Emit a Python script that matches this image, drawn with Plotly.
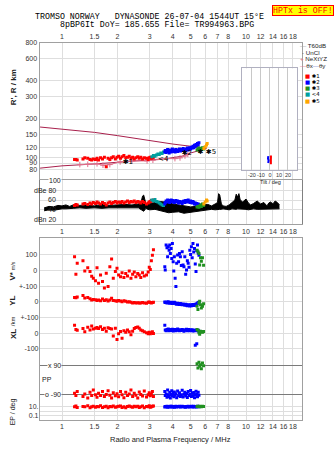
import math
import plotly.graph_objects as go

W, H = 335, 451

# ---------------- data ----------------
freq_ticks = [1, 1.5, 2, 3, 4, 5, 6, 7, 8, 10, 12, 14, 16, 18]
freq_ticktext = ["1", "1.5", "2", "3", "4", "5", "6", "7", "8", "10", "12", "14", "16", "18"]
height_ticks = [80, 90, 100, 120, 150, 200, 300, 400, 600, 800]

# echo group *1 (red)
f1 = [1.17, 1.19, 1.21, 1.30, 1.33, 1.38, 1.42, 1.45, 1.48, 1.52, 1.55, 1.58, 1.62, 1.66, 1.70,
      1.74, 1.78, 1.82, 1.86, 1.90, 1.95, 1.99, 2.03, 2.08, 2.12, 2.17, 2.22, 2.27, 2.32, 2.37,
      2.42, 2.47, 2.52, 2.58, 2.63, 2.68, 2.74, 2.80, 2.88, 2.94, 2.98, 3.02, 3.06, 3.10, 3.14]
R1 = [96, 96, 95, 97, 99, 98, 96, 95, 97, 96, 98, 95, 99, 97, 100, 84, 98, 96, 99, 101,
      97, 100, 102, 98, 101, 103, 99, 100, 102, 98, 100, 97, 99, 101, 98, 100, 97, 99, 98, 96,
      99, 100, 98, 99, 100]
A1 = [49, 51, 50, 52, 53, 51, 54, 52, 55, 53, 56, 54, 52, 55, 53, 50, 54, 56, 53, 55,
      57, 54, 56, 55, 57, 54, 56, 58, 55, 57, 56, 58, 55, 57, 56, 54, 57, 55, 52, 54,
      56, 57, 59, 58, 60]
V1 = [86, -25, 44, 61, -4, 17, -8, -37, -50, -66, 17, -81, -29, -70, -112, -19, -102, 23, 71, -50,
      -8, 13, -29, -40, -15, -45, -20, -35, -5, -50, -25, -10, -40, -20, -30, -45, -15, -35, -30, -10,
      20, 5, 60, 95, 130]
YL1 = [25, 22, 28, 37, 21, 25, 17, 8, 12, 10, 5, 8, 4, 15, 6, 10, 2, 8, 19, 5,
       3, 0, 6, 2, -2, 4, 0, -4, -2, -6, -10, -8, -10, -9, -11, -10, -8, -10, -12, -6,
       -4, -8, -10, -7, -5]
XL1 = [50, 23, 17, 29, 8, 37, 20, 44, 25, 30, 35, 28, 40, 22, 30, 12, 33, 28, 25, -19,
       30, -40, -4, 10, -33, 15, 5, 20, 8, -10, 12, 29, 35, 38, 30, 20, 15, 8, 2, -5,
       5, -4, 0, 8, -2]
PP1 = [-80, -95, -70, -100, -85, -110, -75, -95, -60, -90, -105, -80, -95, -70, -100, -88, -65, -92, -110, -78,
       -96, -84, -102, -70, -90, -108, -75, -95, -85, -60, -100, -80, -92, -110, -72, -88, -98, -66, -104, -90,
       -78, -96, -86, -70, -100]
EP1 = [10, 14, 7, 11, 10, 16, 6, 10, 13, 8, 11, 10, 17, 7, 10, 13, 6, 11, 10, 15,
       8, 10, 12, 14, 7, 10, 6, 11, 15, 10, 8, 13, 10, 12, 7, 10, 14, 6, 11, 10,
       16, 8, 10, 12, 14]

# echo group *2 (blue)
f2 = [3.62, 3.64, 3.68, 3.72, 3.75, 3.78, 3.82, 3.85, 3.88, 3.92, 3.95, 3.98, 4.02, 4.05, 4.08,
      4.12, 4.16, 4.20, 4.25, 4.30, 4.35, 4.40, 4.45, 4.50, 4.55, 4.60, 4.65, 4.70, 4.75, 4.80,
      4.85, 4.90, 4.95, 5.00, 5.05, 5.10, 5.15, 5.20, 5.25, 5.30, 5.35, 5.40, 5.45, 5.50, 5.55]
R2 = [110, 113, 109, 112, 115, 111, 108, 114, 112, 110, 113, 116, 111, 114, 112, 110, 115, 113, 111, 114,
      116, 112, 115, 113, 117, 114, 112, 116, 115, 118, 114, 117, 119, 116, 120, 118, 122, 119, 124, 121,
      126, 123, 128, 125, 130]
A2 = [52, 55, 58, 56, 60, 57, 59, 55, 58, 60, 57, 59, 56, 58, 55, 57, 59, 56, 58, 54,
      57, 55, 56, 53, 57, 58, 55, 59, 56, 58, 60, 57, 55, 58, 56, 54, 57, 55, 52, 54,
      51, 53, 50, 52, 51]
V2 = [23, 2, 159, 142, 86, 148, 127, 159, 106, 138, 75, 169, 54, -4, 86, -50, -102, 44, 96, 54,
      106, 86, 30, 117, 34, 23, 86, -25, 2, 60, 45, 20, 127, 100, 148, 80, 169, 115, 138, 40,
      -8, 125, 160, 110, 95]
YL2 = [-4, -8, -5, -10, -6, -3, -9, -12, -7, -5, -10, -14, -8, -12, -6, -10, -15, -18, -12, -16,
       -20, -14, -18, -22, -16, -20, -25, -19, -23, -28, -21, -25, -30, -22, -27, -24, -20, -26, -22, -18,
       -24, -15, -12, -8, -5]
XL2 = [50, 20, 15, 22, 18, 25, 14, 20, 23, 16, 19, 24, 13, 21, 17, 22, 15, 20, 25, 18,
       14, 21, 16, 23, 19, 12, 20, 17, 24, 15, 18, 22, 14, 19, 16, 21, 13, 18, 15, -77,
       20, -67, 14, 17, 12]
PP2 = [-70, -95, -85, -105, -60, -90, -100, -75, -110, -88, -65, -95, -80, -102, -72, -92, -84, -108, -66, -96,
       -78, -100, -90, -62, -104, -86, -74, -98, -82, -106, -70, -94, -88, -64, -100, -80, -96, -76, -108, -90,
       -68, -86, -102, -74, -92]
EP2 = [9, 11, 10, 12, 8, 10, 11, 9, 13, 10, 12, 9, 10, 11, 8, 10, 12, 9, 11, 10,
       13, 9, 10, 12, 11, 9, 10, 8, 11, 10, 12, 9, 10, 11, 13, 10, 9, 12, 10, 11,
       9, 10, 12, 11, 10]

# echo group *3 (green)
f3 = [5.42, 5.48, 5.55, 5.60, 5.66, 5.72, 5.80, 5.88]
R3 = [114, 116, 118, 113, 117, 115, 119, 116]
A3 = [46, 47, 45, 48, 50, 47, 52, 49]
V3 = [127, 117, 106, 34, 79, 58, 79, 32]
YL3 = [-31, -52, -10, 0, -21, -42, -31, -15]
XL3 = [23, 17, 2, -8, 12, 8, 5, 10]
PP3 = [100, 75, 110, 85, 95, 70, 105, 88]
EP3 = [11, 12, 10, 13, 11, 10, 12, 11]

# echo group <4 (teal)
f4 = [3.08, 3.14, 3.20, 3.26, 3.32, 3.38, 3.44, 3.50, 3.56]
R4 = [101, 103, 102, 104, 106, 105, 108, 107, 110]
A4 = [60, 58, 61, 57, 56, 54, 52, 50, 49]

# echo group *5 (orange)
f5 = [5.9, 6.0, 6.1, 6.15]
R5 = [117, 121, 125, 128]
A5 = [52, 56, 60, 58]

# NeXtYZ profile
fN = [1.25, 1.38, 1.55, 1.67, 1.82, 2.07, 2.40, 2.90, 3.12, 3.72, 4.11, 4.38, 4.66, 4.83]
RN = [87.5, 88, 88.7, 86.5, 87.5, 91.9, 93.5, 93.5, 94.6, 97.5, 97.5, 98.8, 102.3, 105.5]

# model curves
fU = [0.76, 1.0, 1.5, 2.0, 3.0, 4.0, 5.0, 6.1]
RU = [173, 167, 157, 148, 135, 127, 122, 118]
fL = [0.76, 1.0, 1.5, 2.0, 3.0, 3.72, 4.5, 5.0, 5.5, 6.1]
RL = [82, 85.5, 88.5, 90.8, 95.3, 97.5, 102, 108, 112, 117]

# amplitude / noise band
fn = [0.80, 0.85, 0.90, 0.95, 1.00, 1.05, 1.10, 1.15, 1.25, 1.35, 1.5, 1.65, 1.8, 2.0, 2.2, 2.4, 2.6,
      2.70, 2.74, 2.78, 2.82, 2.86, 2.92, 3.0, 3.2, 3.4, 3.6, 3.8, 4.0, 4.3, 4.6, 5.0, 5.3, 5.6, 5.9,
      6.2, 6.5, 6.8, 7.0, 7.1, 7.2, 7.35, 7.5, 7.8, 8.1, 8.4, 8.7, 8.85, 9.0, 9.15, 9.3, 9.6, 10.0,
      10.3, 10.6, 11.0, 11.5, 12.0, 12.5, 13.0, 13.3, 13.6, 14.0, 14.4, 14.8, 15.2]
noise_hi = [44, 47, 46, 49, 48, 50, 47, 50, 49, 50, 48, 51, 49, 50, 51, 50, 52, 58, 68, 70,
            60, 52, 54, 53, 55, 57, 56, 55, 52, 50, 48, 46, 47, 49, 50, 51, 48, 52, 55, 73,
            70, 52, 48, 47, 50, 55, 60, 72, 66, 73, 60, 56, 62, 54, 50, 53, 58, 52, 55, 48,
            54, 56, 52, 58, 55, 50]
noise_lo = [38, 40, 39, 41, 42, 42, 43, 43, 44, 43, 44, 43, 44, 44, 45, 44, 44, 40, 38, 37,
            40, 43, 41, 40, 41, 38, 36, 34, 35, 36, 33, 35, 37, 38, 40, 41, 41, 40, 41, 42,
            41, 41, 42, 41, 40, 42, 41, 41, 42, 42, 41, 42, 41, 40, 41, 42, 41, 41, 42, 41,
            41, 42, 41, 42, 41, 42]

# tilt inset
tilt_h = [88, 92, 96, 100, 103]
tilt_x = [1.0, 0.8, 1.2, 0.9, 1.1]
tilt_hb = [90, 94, 98, 102]
tilt_y = [-2.0, -1.5, -2.2, -1.8]
tilt_ticks = [-20, -10, 0, 10, 20]

label_f = [2.28, 3.55, 4.77, 5.65, 6.45]
label_R = [91, 97, 108, 110, 110]
label_txt = ["✱1", "<4", "✱2", "✱", "✱5"]

# ---------------- styling ----------------
RED, BLUE, GREEN, TEAL, ORANGE = "#ff0000", "#0000ff", "#209020", "#00a0a0", "#ffa500"
CRIMSON, PINK = "#a8204c", "#e0708c"
GRID, FRAME = "#dedede", "#a0a0a0"
FONT = "Liberation Sans"
MONO = "Liberation Mono"


def px_x(p):
    return p / W


def px_y(p):
    return 1 - p / H


XDOM = [px_x(39.5), px_x(302)]
XRANGE = [(39.5 - 62) / 184, (302 - 62) / 184]

fig = go.Figure()


def pts(x, y, color, xa, ya, size=3):
    fig.add_trace(go.Scatter(x=x, y=y, mode="markers", xaxis=xa, yaxis=ya,
                             marker=dict(symbol="square", size=size, color=color, line=dict(width=0)),
                             showlegend=False, hoverinfo="skip"))


# top panel
fig.add_trace(go.Scatter(x=fU, y=RU, mode="lines", line=dict(color=CRIMSON, width=1), xaxis="x", yaxis="y",
                         showlegend=False))
fig.add_trace(go.Scatter(x=fL, y=RL, mode="lines", line=dict(color=CRIMSON, width=1), xaxis="x", yaxis="y",
                         showlegend=False))
fig.add_trace(go.Scatter(x=fN, y=RN, mode="lines+markers", line=dict(color=PINK, width=1),
                         marker=dict(symbol="cross-thin-open", size=4, color=PINK, line=dict(color=PINK, width=1)),
                         xaxis="x", yaxis="y", showlegend=False))
pts(f1, R1, RED, "x", "y")
pts(f4, R4, TEAL, "x", "y")
pts(f2, R2, BLUE, "x", "y")
pts(f3, R3, GREEN, "x", "y")
pts(f5, R5, ORANGE, "x", "y")
fig.add_trace(go.Scatter(x=label_f, y=label_R, mode="text", text=label_txt, xaxis="x", yaxis="y",
                         textfont=dict(size=7, color="black", family="DejaVu Sans"), showlegend=False))

# amplitude panel
fig.add_trace(go.Scatter(x=fn, y=noise_lo, mode="lines", line=dict(color="black", width=1), xaxis="x2", yaxis="y2",
                         showlegend=False))
fig.add_trace(go.Scatter(x=fn, y=noise_hi, mode="lines", line=dict(color="black", width=1), fill="tonexty",
                         fillcolor="black", xaxis="x2", yaxis="y2", showlegend=False))
pts(f1, A1, RED, "x2", "y2")
pts(f4, A4, TEAL, "x2", "y2")
pts(f2, A2, BLUE, "x2", "y2")
pts(f3, A3, GREEN, "x2", "y2")
pts(f5, A5, ORANGE, "x2", "y2")

# lower panel
for fx, vv, c in [(f1, V1, RED), (f2, V2, BLUE), (f3, V3, GREEN)]:
    pts(fx, vv, c, "x3", "y3")
for fx, vv, c in [(f1, YL1, RED), (f2, YL2, BLUE), (f3, YL3, GREEN)]:
    pts(fx, vv, c, "x3", "y4")
for fx, vv, c in [(f1, XL1, RED), (f2, XL2, BLUE), (f3, XL3, GREEN)]:
    pts(fx, vv, c, "x3", "y5")
for fx, vv, c in [(f1, PP1, RED), (f2, PP2, BLUE), (f3, PP3, GREEN)]:
    pts(fx, vv, c, "x3", "y6")
for fx, vv, c in [(f1, EP1, RED), (f2, EP2, BLUE), (f3, EP3, GREEN)]:
    pts(fx, vv, c, "x3", "y7")

# tilt inset
fig.add_trace(go.Scatter(x=tilt_x, y=tilt_h, mode="lines", line=dict(color=RED, width=2), xaxis="x4", yaxis="y8",
                         showlegend=False))
fig.add_trace(go.Scatter(x=tilt_y, y=tilt_hb, mode="lines", line=dict(color=BLUE, width=2), xaxis="x4", yaxis="y8",
                         showlegend=False))

tickfont = dict(size=7, color="#333", family=FONT)
xcommon = dict(type="log", range=XRANGE, domain=XDOM, tickvals=freq_ticks, ticktext=freq_ticktext,
               showgrid=True, gridcolor=GRID, gridwidth=1, showline=True, linecolor=FRAME, mirror=True,
               ticks="", tickfont=tickfont, zeroline=False, tickangle=0)

layout = dict(
    width=W, height=H, margin=dict(l=0, r=0, t=0, b=0, pad=0),
    paper_bgcolor="white", plot_bgcolor="white", showlegend=False,
    font=dict(family=FONT, size=7, color="#333"),
    xaxis=dict(xcommon, anchor="y", side="top"),
    yaxis=dict(type="log", domain=[px_y(177), px_y(39)], range=[math.log10(80) - 10 / 128, math.log10(800)],
               tickvals=height_ticks, ticktext=[str(v) for v in height_ticks], anchor="x",
               showgrid=True, gridcolor=GRID, showline=True, linecolor=FRAME, mirror=True, ticks="",
               tickfont=tickfont, zeroline=False),
    xaxis2=dict(xcommon, anchor="y2", side="bottom"),
    yaxis2=dict(domain=[px_y(222.3), px_y(178)], range=[10.4, 100], tickvals=[40, 60, 80], showticklabels=False,
                anchor="x2", showgrid=True, gridcolor=GRID, showline=True, linecolor="#808080", mirror=True,
                ticks="", zeroline=False),
    yaxis9=dict(overlaying="y2", range=[10.4, 100], tickvals=[20], showticklabels=False, anchor="x2",
                showgrid=True, gridcolor="#b8b8ee", showline=False, ticks="", zeroline=False),
    xaxis3=dict(xcommon, anchor="y3", side="bottom"),
    yaxis3=dict(domain=[px_y(419.3), px_y(236)], range=[-941, 204.4], tickvals=[100, 0, -100],
                ticktext=["100", "0", "+-100"], anchor="x3", showgrid=True, gridcolor=GRID, showline=True,
                linecolor=FRAME, mirror=True, ticks="", tickfont=tickfont, zeroline=False),
    yaxis4=dict(overlaying="y3", anchor="x3", side="left", range=[-745.6, 400], tickvals=[0, -100],
                ticktext=["0", "+-100"], showgrid=True, gridcolor=GRID, showline=False, ticks="",
                tickfont=tickfont, zeroline=False),
    yaxis5=dict(overlaying="y3", anchor="x3", side="left", range=[-545.6, 600], tickvals=[0, -100],
                ticktext=["0", "-100"], showgrid=True, gridcolor=GRID, showline=False, ticks="",
                tickfont=tickfont, zeroline=False),
    yaxis6=dict(overlaying="y3", anchor="x3", side="left", range=[-242, 872.6], tickvals=[90, -90],
                showticklabels=False, showgrid=True, gridcolor="#7a7a7a", showline=False, ticks="",
                zeroline=False),
    yaxis7=dict(overlaying="y3", anchor="x3", side="left", type="log", range=[-1.889, 38.84],
                tickvals=[0.1, 1, 10], ticktext=["0.1", "", "10."], showgrid=True, gridcolor=GRID,
                showline=False, ticks="", tickfont=tickfont, zeroline=False),
    xaxis4=dict(domain=[px_x(242), px_x(297)], range=[-31, 30], anchor="y8", tickvals=tilt_ticks,
                ticktext=[str(v) for v in tilt_ticks], showgrid=True, gridcolor="#c8c8c8", showline=True,
                linecolor="#b0b0c0", mirror=True, ticks="", tickfont=dict(size=5.5, color="#333", family=FONT),
                zeroline=False, tickangle=0),
    yaxis8=dict(type="log", domain=[px_y(167), px_y(65)], range=[math.log10(80), math.log10(800) - 26 / 128],
                anchor="x4", showgrid=False, showline=True, linecolor="#b0b0c0", mirror=True,
                showticklabels=False, ticks="", zeroline=False),
)
fig.update_layout(**layout)

# white backdrop hiding the main grid behind the tilt inset
fig.add_shape(type="rect", xref="x", yref="y",
              x0=(242 - 62) / 184, x1=(297 - 62) / 184,
              y0=math.log10(80), y1=math.log10(800) - 26 / 128,
              fillcolor="white", line=dict(width=0), layer="between")

ann = []


def A(text, x, y, size=7, xanchor="center", yanchor="middle", **kw):
    d = dict(text=text, x=px_x(x), y=px_y(y), xref="paper", yref="paper", showarrow=False,
             xanchor=xanchor, yanchor=yanchor, font=dict(size=size, color=kw.pop("color", "#222"),
                                                         family=kw.pop("family", FONT)))
    d.update(kw)
    ann.append(d)


# header
A("TROMSO NORWAY\u00a0\u00a0\u00a0DYNASONDE 26-07-04 1544UT 15°E", 149.5, 12.5, size=8.3, family=MONO, color="black")
A("8pBP6It DoY= 185.655 File= TR994963.BPG", 157, 20.7, size=8.3, family=MONO, color="black")
A("HPTx is OFF!", 302.5, 7, size=8.3, family=MONO, color="#ff0000", bgcolor="#ffff00", bordercolor="#ff0000",
  borderwidth=1, borderpad=0)

# legend (compact, like the original)
A("<span style='color:#a0a0a0'>—</span> T60dB", 299, 42, size=6.2, xanchor="left", borderpad=0)
A("<span style='color:#000'>·</span>\u00a0UnCl", 301, 48.6, size=6.2, xanchor="left", borderpad=0)
A("<span style='color:%s'>+</span> NeXtYZ" % PINK, 299, 55.2, size=6.2, xanchor="left", borderpad=0)
A("<span style='color:%s'>—</span>θx<span style='color:#8080d0'>—</span>θy" % PINK, 299, 62.2, size=6.2,
  xanchor="left", borderpad=0)
for i, (c, t) in enumerate([(RED, "✱1"), (BLUE, "✱2"), (GREEN, "✱3"), (TEAL, "<4"), (ORANGE, "✱5")]):
    A("<span style='color:%s'>■</span> %s" % (c, t), 304, 72.4 + i * 6.3, size=5.4, xanchor="left",
      color="black", family="DejaVu Sans", borderpad=0)

# axis titles
A("<b>R', R / km</b>", 13, 84, size=8, textangle=-90)
A("<b>V*</b> <span style='font-size:5px'>m/s</span>", 13, 270, size=8, textangle=-90)
A("<b>YL</b>", 13, 299.5, size=8, textangle=-90)
A("/km", 13, 320, size=6, textangle=-90)
A("<b>XL</b>", 13, 333, size=8, textangle=-90)
A("EP / deg", 13, 412, size=7, textangle=-90)
A("Radio and Plasma Frequency / MHz", 170.5, 439, size=7.5)
A("Tilt / deg", 270, 179.5, size=5.5, borderpad=0)

# amplitude labels
A("100", 62, 178, xanchor="right", bgcolor="white", borderpad=0)
A("dBe 80", 57, 187.8, xanchor="right", borderpad=0)
A("60", 57, 197.6, xanchor="right", borderpad=0)
A("40", 57, 207.5, xanchor="right", borderpad=0)
A("dBn 20", 57, 217.3, xanchor="right", borderpad=0)

# polarization labels
A("x 90", 62, 364.7, xanchor="right", bgcolor="white", borderpad=0)
A("PP", 46.5, 378.7)
A("o -90", 62, 394.3, xanchor="right", bgcolor="white", borderpad=0)

fig.update_layout(annotations=ann)
fig.write_html("out.html")
